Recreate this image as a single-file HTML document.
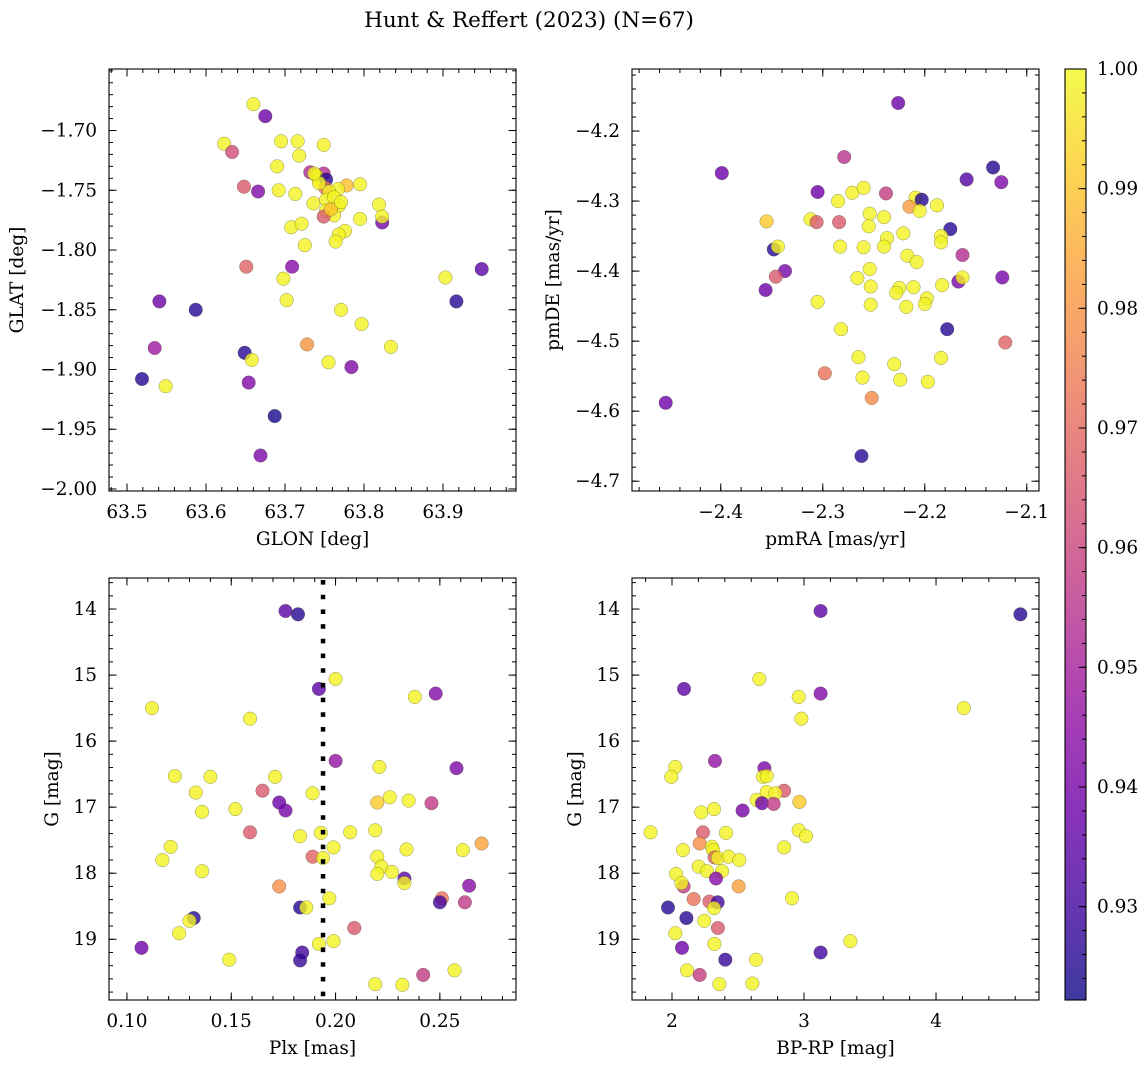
<!DOCTYPE html>
<html><head><meta charset="utf-8"><style>
html,body{margin:0;padding:0;background:#fff;}
svg{display:block;font-family:"DejaVu Serif","Liberation Serif",serif;}
</style></head><body>
<svg id="fig" width="1148" height="1068" viewBox="0 0 1148 1068" xmlns="http://www.w3.org/2000/svg">
<text x="529" y="27" font-size="21.5" text-anchor="middle">Hunt &amp; Reffert (2023) (N=67)</text>
</svg>
<script>
// ---- Panel 1: GLON / GLAT ----
const p1Lon=[63.660,63.675,63.623,63.633,63.695,63.716,63.749,63.718,63.690,63.732,63.749,63.740,63.743,63.752,63.648,63.666,63.692,63.713,63.751,63.778,63.767,63.756,63.795,63.736,63.752,63.768,63.752,63.762,63.749,63.819,63.823,63.823,63.795,63.708,63.721,63.776,63.768,63.764,63.725,63.651,63.709,63.698,63.702,63.903,63.949,63.541,63.587,63.917,63.771,63.797,63.728,63.834,63.535,63.649,63.658,63.755,63.784,63.519,63.549,63.654,63.687,63.669,63.743,63.762,63.758,63.771,63.737];
const p1Lat=[-1.678,-1.688,-1.711,-1.718,-1.709,-1.709,-1.712,-1.721,-1.730,-1.735,-1.736,-1.738,-1.741,-1.741,-1.747,-1.751,-1.750,-1.753,-1.748,-1.746,-1.749,-1.751,-1.745,-1.761,-1.758,-1.763,-1.767,-1.771,-1.772,-1.762,-1.777,-1.772,-1.774,-1.781,-1.778,-1.784,-1.787,-1.793,-1.796,-1.814,-1.814,-1.824,-1.842,-1.823,-1.816,-1.843,-1.850,-1.843,-1.850,-1.862,-1.879,-1.881,-1.882,-1.886,-1.892,-1.894,-1.898,-1.908,-1.914,-1.911,-1.939,-1.972,-1.744,-1.756,-1.766,-1.760,-1.736];
const p1Prob=[0.999,0.938,0.999,0.962,0.999,0.999,0.999,0.999,0.999,0.952,0.953,0.999,0.999,0.926,0.966,0.942,0.999,0.999,0.972,0.989,0.999,0.999,0.999,0.999,0.999,0.999,0.999,0.999,0.966,0.999,0.940,0.999,0.999,0.999,0.999,0.999,0.999,0.999,0.999,0.968,0.943,0.999,0.999,0.999,0.935,0.938,0.926,0.926,0.999,0.999,0.980,0.999,0.948,0.926,0.999,0.999,0.942,0.926,0.999,0.942,0.924,0.941,0.999,0.999,0.990,0.999,0.999];
// ---- Panel 2: pmRA / pmDE ----
const p2Ra=[-2.226,-2.279,-2.399,-2.133,-2.159,-2.125,-2.305,-2.271,-2.260,-2.238,-2.285,-2.209,-2.203,-2.215,-2.205,-2.188,-2.355,-2.312,-2.306,-2.284,-2.254,-2.240,-2.255,-2.175,-2.184,-2.184,-2.221,-2.237,-2.240,-2.283,-2.260,-2.348,-2.344,-2.163,-2.217,-2.208,-2.337,-2.346,-2.254,-2.266,-2.124,-2.167,-2.163,-2.183,-2.253,-2.211,-2.225,-2.228,-2.198,-2.200,-2.356,-2.305,-2.253,-2.218,-2.282,-2.178,-2.121,-2.265,-2.184,-2.230,-2.298,-2.261,-2.224,-2.197,-2.252,-2.454,-2.262];
const p2De=[-4.160,-4.237,-4.260,-4.252,-4.269,-4.273,-4.287,-4.288,-4.281,-4.289,-4.300,-4.295,-4.298,-4.308,-4.314,-4.306,-4.329,-4.326,-4.330,-4.330,-4.318,-4.323,-4.336,-4.340,-4.350,-4.359,-4.346,-4.353,-4.365,-4.365,-4.366,-4.369,-4.365,-4.377,-4.378,-4.387,-4.400,-4.408,-4.397,-4.410,-4.409,-4.415,-4.409,-4.420,-4.422,-4.423,-4.424,-4.431,-4.439,-4.447,-4.427,-4.444,-4.448,-4.451,-4.483,-4.483,-4.502,-4.523,-4.524,-4.533,-4.546,-4.552,-4.555,-4.558,-4.581,-4.588,-4.664];
const p2Prob=[0.938,0.955,0.938,0.926,0.933,0.942,0.938,0.999,0.999,0.958,0.999,0.999,0.926,0.982,0.999,0.999,0.991,0.999,0.966,0.966,0.999,0.999,0.999,0.926,0.999,0.999,0.999,0.999,0.999,0.999,0.999,0.926,0.999,0.953,0.999,0.999,0.940,0.966,0.999,0.999,0.940,0.940,0.999,0.999,0.999,0.999,0.999,0.999,0.999,0.999,0.938,0.999,0.999,0.999,0.999,0.926,0.968,0.999,0.999,0.999,0.972,0.999,0.999,0.999,0.978,0.938,0.926];
// ---- Panel 3 & 4: G magnitude ----
const p3Plx=[0.176,0.182,0.200,0.192,0.238,0.248,0.112,0.159,0.200,0.221,0.258,0.123,0.140,0.171,0.133,0.165,0.189,0.173,0.176,0.152,0.136,0.220,0.226,0.235,0.246,0.159,0.183,0.193,0.207,0.219,0.121,0.117,0.136,0.189,0.194,0.199,0.220,0.222,0.220,0.227,0.234,0.261,0.270,0.233,0.233,0.173,0.264,0.251,0.250,0.262,0.197,0.183,0.186,0.132,0.130,0.125,0.209,0.107,0.184,0.183,0.149,0.192,0.199,0.219,0.232,0.242,0.257];
const p3G=[14.03,14.08,15.06,15.21,15.33,15.28,15.50,15.66,16.30,16.39,16.41,16.53,16.54,16.54,16.78,16.75,16.79,16.93,17.05,17.03,17.07,16.93,16.85,16.90,16.94,17.38,17.44,17.39,17.38,17.35,17.60,17.80,17.97,17.75,17.77,17.61,17.75,17.90,18.01,17.98,17.64,17.65,17.55,18.08,18.15,18.20,18.19,18.38,18.44,18.44,18.38,18.52,18.52,18.68,18.72,18.91,18.83,19.13,19.20,19.32,19.31,19.07,19.03,19.68,19.69,19.54,19.47];
const p3Prob=[0.935,0.926,0.999,0.935,0.999,0.942,0.999,0.999,0.946,0.999,0.941,0.999,0.999,0.999,0.999,0.966,0.999,0.938,0.940,0.999,0.999,0.991,0.999,0.999,0.957,0.966,0.999,0.999,0.999,0.999,0.999,0.999,0.999,0.968,0.999,0.999,0.999,0.999,0.999,0.999,0.999,0.999,0.983,0.935,0.999,0.979,0.943,0.972,0.930,0.957,0.999,0.926,0.999,0.926,0.999,0.999,0.966,0.938,0.930,0.928,0.999,0.999,0.999,0.999,0.999,0.958,0.999];
const p4Col=[3.126,4.639,2.662,2.091,2.960,3.126,4.210,2.980,2.326,2.025,2.700,1.995,2.689,2.717,2.849,2.717,2.783,2.641,2.682,2.770,2.965,2.535,2.222,2.318,1.838,2.235,2.409,2.960,3.015,2.210,2.083,2.303,2.311,2.849,2.323,2.348,2.429,2.510,2.202,2.265,2.379,2.333,2.030,2.088,2.071,2.505,2.164,2.283,2.346,2.318,2.909,1.970,2.109,2.245,2.348,2.025,2.076,3.126,2.404,2.636,2.321,3.351,2.359,2.609,2.210,2.114];
const p4G=[14.03,14.08,15.06,15.21,15.33,15.28,15.50,15.66,16.30,16.39,16.41,16.54,16.54,16.53,16.75,16.77,16.79,16.89,16.94,16.95,16.92,17.05,17.08,17.03,17.38,17.38,17.39,17.35,17.44,17.55,17.65,17.60,17.65,17.61,17.76,17.77,17.75,17.80,17.90,17.97,17.97,18.08,18.01,18.20,18.15,18.20,18.39,18.43,18.44,18.53,18.38,18.52,18.68,18.72,18.83,18.91,19.13,19.20,19.31,19.31,19.07,19.03,19.68,19.67,19.54,19.47];
const p4Prob=[0.935,0.926,0.999,0.935,0.999,0.942,0.999,0.999,0.946,0.999,0.941,0.999,0.999,0.999,0.966,0.999,0.999,0.999,0.938,0.957,0.991,0.940,0.999,0.999,0.999,0.966,0.999,0.999,0.999,0.979,0.999,0.999,0.999,0.999,0.968,0.999,0.999,0.999,0.999,0.999,0.999,0.943,0.999,0.957,0.999,0.983,0.972,0.966,0.930,0.999,0.999,0.926,0.926,0.999,0.966,0.999,0.938,0.930,0.928,0.999,0.999,0.999,0.999,0.999,0.958,0.999];
const plxRef=[0.194];
const cbarTicks=[0.93,0.94,0.95,0.96,0.97,0.98,0.99,1.00];

const NS='http://www.w3.org/2000/svg';
const svg=document.getElementById('fig');
const VMIN=0.9222,VMAX=1.0;
const plasma=['#0d0887','#41049d','#6a00a8','#8f0da4','#b12a90','#cc4778','#e16462','#f2844b','#fca636','#fcce25','#f0f921'];
function hx(c){return [1,3,5].map(i=>parseInt(c.substr(i,2),16));}
function cmap(v){let t=(v-VMIN)/(VMAX-VMIN);t=Math.max(0,Math.min(1,t))*10;const i=Math.min(9,Math.floor(t)),f=t-i;const a=hx(plasma[i]),b=hx(plasma[i+1]);return 'rgb('+a.map((x,k)=>Math.round(x+(b[k]-x)*f)).join(',')+')';}
function el(tag,attrs,parent){const e=document.createElementNS(NS,tag);for(const k in attrs)e.setAttribute(k,attrs[k]);(parent||svg).appendChild(e);return e;}
function fmt(v,d){const s=Math.abs(v).toFixed(d);return (v<-1e-9?'\u2212':'')+s;}

function panel(name,o){
  const g=el('g',{});
  
  
  const {x0,y0,w,h}=o;
  const sx=v=>x0+(v-o.xmin)/(o.xmax-o.xmin)*w;
  const sy=o.inv?(v=>y0+(v-o.ymin)/(o.ymax-o.ymin)*h):(v=>y0+(o.ymax-v)/(o.ymax-o.ymin)*h);
  const pg=el('g',{},g);
  
  
  for(let i=0;i<o.xs.length;i++){
    const c=el('circle',{cx:sx(o.xs[i]).toFixed(1),cy:sy(o.ys[i]).toFixed(1),r:6.8,fill:cmap(o.ps[i]),'fill-opacity':0.8,stroke:'rgba(70,70,40,0.55)','stroke-width':0.5},pg);
    
    
  }
  if(o.vline){for(const v of o.vline){const l=el('line',{x1:sx(v),x2:sx(v),y1:y0+2,y2:y0+h,stroke:'#000','stroke-width':4.5,'stroke-dasharray':'4.6 10.1'},g);
    
    }}
  const fr=el('rect',{x:x0,y:y0,width:w,height:h,fill:'none',stroke:'#000','stroke-width':1.1},g);
  
  
  const tk=el('g',{stroke:'#000','stroke-width':1},g);
  
  
  const nx=Math.round((o.xmax-o.xmin)/o.xminor)+2;
  const sxm=Math.ceil(o.xmin/o.xminor-1e-6);
  for(let k=sxm;k<sxm+nx;k++){const v=k*o.xminor;if(v<o.xmin||v>o.xmax)continue;const X=sx(v);
    el('line',{x1:X,x2:X,y1:y0+h,y2:y0+h-4},tk);el('line',{x1:X,x2:X,y1:y0,y2:y0+4},tk);}
  for(const v of o.xmaj){const X=sx(v);el('line',{x1:X,x2:X,y1:y0+h,y2:y0+h-7.5},tk);el('line',{x1:X,x2:X,y1:y0,y2:y0+7.5},tk);
    const t=el('text',{x:X,y:y0+h+27,'font-size':18.5,'text-anchor':'middle'},g);t.textContent=fmt(v,o.xd);
    
    }
  const ny=Math.round((o.ymax-o.ymin)/o.yminor)+2;
  const sym=Math.ceil(o.ymin/o.yminor-1e-6);
  for(let k=sym;k<sym+ny;k++){const v=k*o.yminor;if(v<o.ymin||v>o.ymax)continue;const Y=sy(v);
    el('line',{x1:x0,x2:x0+4,y1:Y,y2:Y},tk);el('line',{x1:x0+w,x2:x0+w-4,y1:Y,y2:Y},tk);}
  for(const v of o.ymaj){const Y=sy(v);el('line',{x1:x0,x2:x0+7.5,y1:Y,y2:Y},tk);el('line',{x1:x0+w,x2:x0+w-7.5,y1:Y,y2:Y},tk);
    const t=el('text',{x:x0-12,y:Y+6,'font-size':18.5,'text-anchor':'end'},g);t.textContent=fmt(v,o.yd);
    
    }
  const xl=el('text',{x:x0+w/2,y:y0+h+54,'font-size':18.5,'text-anchor':'middle'},g);xl.textContent=o.xlab;
  
  
  const yl=el('text',{x:0,y:0,'font-size':18.5,'text-anchor':'middle',transform:'translate('+o.ylx+','+(y0+h/2)+') rotate(-90)'},g);yl.textContent=o.ylab;
  
  
}

panel('glon-glat-panel',{x0:109,y0:69,w:407,h:422,xmin:63.4772,xmax:63.9924,ymin:-2.0017,ymax:-1.6485,inv:false,
  xs:p1Lon,ys:p1Lat,ps:p1Prob,xmaj:[63.5,63.6,63.7,63.8,63.9],xminor:0.02,xd:1,ymaj:[-2.0,-1.95,-1.9,-1.85,-1.8,-1.75,-1.7],yminor:0.01,yd:2,
  xlab:'GLON [deg]',ylab:'GLAT [deg]',ylx:23});
panel('pmra-pmde-panel',{x0:632,y0:69,w:407,h:422,xmin:-2.487,xmax:-2.088,ymin:-4.714,ymax:-4.1114,inv:false,
  xs:p2Ra,ys:p2De,ps:p2Prob,xmaj:[-2.4,-2.3,-2.2,-2.1],xminor:0.02,xd:1,ymaj:[-4.7,-4.6,-4.5,-4.4,-4.3,-4.2],yminor:0.02,yd:1,
  xlab:'pmRA [mas/yr]',ylab:'pmDE [mas/yr]',ylx:559});
panel('plx-g-panel',{x0:109,y0:578,w:407,h:422,xmin:0.0914,xmax:0.2865,ymin:13.53,ymax:19.92,inv:true,
  xs:p3Plx,ys:p3G,ps:p3Prob,xmaj:[0.10,0.15,0.20,0.25],xminor:0.01,xd:2,ymaj:[14,15,16,17,18,19],yminor:0.2,yd:0,
  xlab:'Plx [mas]',ylab:'G [mag]',ylx:58,vline:plxRef});
panel('color-magnitude-panel',{x0:632,y0:578,w:407,h:422,xmin:1.697,xmax:4.78,ymin:13.53,ymax:19.92,inv:true,
  xs:p4Col,ys:p4G,ps:p4Prob,xmaj:[2,3,4],xminor:0.2,xd:0,ymaj:[14,15,16,17,18,19],yminor:0.2,yd:0,
  xlab:'BP-RP [mag]',ylab:'G [mag]',ylx:581});

const cb=el('g',{});


const defs=el('defs',{},cb);
const lg=el('linearGradient',{id:'cbg',x1:0,y1:1,x2:0,y2:0},defs);
plasma.forEach((c,i)=>el('stop',{offset:i/10,'stop-color':c},lg));
const CX=1065,CY=69,CW=21,CH=931;
const cyv=v=>CY+(VMAX-v)/(VMAX-VMIN)*CH;
el('rect',{x:CX,y:CY,width:CW,height:CH,fill:'url(#cbg)','fill-opacity':0.8},cb);
el('rect',{x:CX,y:CY,width:CW,height:CH,fill:'none',stroke:'#000','stroke-width':1.1},cb);
for(let k=Math.ceil(VMIN/0.002);k<=500;k++){const v=k*0.002;const Y=cyv(v);el('line',{x1:CX+CW,x2:CX+CW-4,y1:Y,y2:Y,stroke:'#000','stroke-width':1},cb);}
for(const v of cbarTicks){const Y=cyv(v);el('line',{x1:CX+CW,x2:CX+CW-7.5,y1:Y,y2:Y,stroke:'#000','stroke-width':1},cb);
  const t=el('text',{x:CX+CW+11,y:Y+6,'font-size':18.5},cb);t.textContent=v.toFixed(2);
  
  }
</script>
</body></html>
